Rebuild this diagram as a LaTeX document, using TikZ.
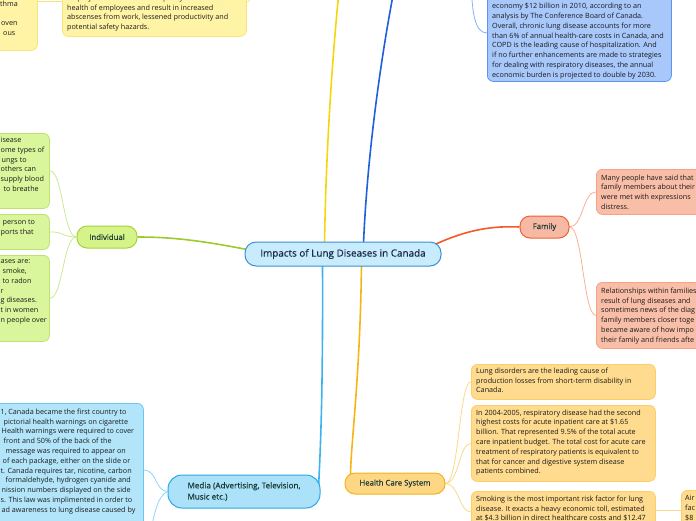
\documentclass[tikz,border=0pt]{standalone}
\usepackage{fontspec}
\setmainfont{Open Sans}
\newfontfamily\labfont{Open Sans}[FakeBold=0.5]
\usetikzlibrary{calc}
\pgfdeclarelayer{background}
\pgfsetlayers{background,main}
\definecolor{ctr}{HTML}{C8ECFB}
\definecolor{ctrd}{HTML}{3A8FD5}
\definecolor{ctrt}{HTML}{1B2B4B}
\definecolor{labt}{HTML}{1C3B36}
\definecolor{bodyt}{HTML}{1A1A1A}
\definecolor{famf}{HTML}{F7B9A3}
\definecolor{famd}{HTML}{EE5F35}
\definecolor{faml}{HTML}{F35A27}
\definecolor{famcf}{HTML}{F9BEA8}
\definecolor{famcd}{HTML}{F6A283}
\definecolor{famcl}{HTML}{F8B096}
\definecolor{indf}{HTML}{D6F38A}
\definecolor{indd}{HTML}{A5D33A}
\definecolor{indl}{HTML}{9BCB2C}
\definecolor{indcf}{HTML}{DAF69C}
\definecolor{indcd}{HTML}{BEE26E}
\definecolor{indcl}{HTML}{CBE894}
\definecolor{medf}{HTML}{ACE2F9}
\definecolor{medd}{HTML}{2AA7E5}
\definecolor{medl}{HTML}{3DB2EE}
\definecolor{medcf}{HTML}{B3E5FA}
\definecolor{medcd}{HTML}{6BC6F0}
\definecolor{medcl}{HTML}{8ED5F6}
\definecolor{hcsf}{HTML}{FDD783}
\definecolor{hcsd}{HTML}{F4B21B}
\definecolor{hcsl}{HTML}{F7B417}
\definecolor{hcscf}{HTML}{FEDB8E}
\definecolor{hcscd}{HTML}{FBCE66}
\definecolor{hcscl}{HTML}{FCD98C}
\definecolor{yell}{HTML}{F2D70F}
\definecolor{yelcf}{HTML}{FFF4A6}
\definecolor{yelcd}{HTML}{F7E47A}
\definecolor{yelcl}{HTML}{F6E27A}
\definecolor{blul}{HTML}{1E5FDF}
\definecolor{blucf}{HTML}{A8C8FB}
\definecolor{blucd}{HTML}{5C93EF}
\definecolor{blucl}{HTML}{85B0F5}
\begin{document}
\begin{tikzpicture}[x=1pt,y=-1pt,
  bx/.style={draw, rounded corners=6pt, line width=0.8pt, inner sep=0pt, anchor=north west},
  txt/.style={anchor=north west, inner sep=0pt, align=left, text=bodyt, font=\fontsize{7.2}{9.8}\selectfont},
  branch/.style={draw, rounded corners=10pt, line width=1pt, inner sep=0pt, text=labt, font=\labfont\fontsize{7.8}{11}\selectfont},
  mainln/.style={line width=1.6pt},
  subln/.style={line width=0.8pt}]
\useasboundingbox (0,0) rectangle (696,520);
\clip (0,0) rectangle (696,520);

% central and branch nodes
\node[branch, fill=ctr, draw=ctrd, text=ctrt, minimum width=196pt, minimum height=24pt, rounded corners=11pt, font=\labfont\fontsize{9.9}{11}\selectfont] (c) at (343,254) {Impacts of Lung Diseases in Canada};
\node[branch, fill=famf, draw=famd, minimum width=49pt, minimum height=22pt] (fam) at (544.5,227) {Family};
\node[branch, fill=indf, draw=indd, minimum width=60pt, minimum height=22pt] (ind) at (107,237) {Individual};
\node[branch, fill=medf, draw=medd, minimum width=152pt, minimum height=33pt, rounded corners=14pt, align=left, font=\labfont\fontsize{8.1}{11.2}\selectfont] (med) at (244,491.5) {Media (Advertising, Television,\\Music etc.)};
\node[branch, fill=hcsf, draw=hcsd, minimum width=100pt, minimum height=21pt] (hcs) at (395,483.5) {Health Care System};

% top-left yellow box
\node[bx, fill=yelcf, draw=yelcd, minimum width=137pt, minimum height=63pt] (TL) at (-100,-13) {};
\node[txt] (TLt) at (0,0.5) {thma\\\mbox{}\\\hspace{1pt}oven\\\hspace{3pt}ous\\\mbox{}};
% top yellow box
\node[bx, fill=yelcf, draw=yelcd, minimum width=184pt, minimum height=50pt] (TY) at (62,-14) {};
\node[txt] (TYt) at (67,-5.5) {Employees. Poor indoor air quality can affect the\\health of employees and result in increased\\abscenses from work, lessened productivity and\\potential safety hazards.};
% top right blue box
\node[bx, fill=blucf, draw=blucd, minimum width=184pt, minimum height=101pt] (TR) at (487,-20) {};
\node[txt] (TRt) at (492,3) {economy \$12 billion in 2010, according to an\\analysis by The Conference Board of Canada.\\Overall, chronic lung disease accounts for more\\than 6\% of annual health-care costs in Canada, and\\COPD is the leading cause of hospitalization. And\\if no further enhancements are made to strategies\\for dealing with respiratory diseases, the annual\\economic burden is projected to double by 2030.};

% individual children
\node[bx, fill=indcf, draw=indcd, minimum width=149pt, minimum height=75pt] (A) at (-100,133) {};
\node[txt] (At) at (0.5,137) {isease\\ome types of\\\hspace{1pt}ungs to\\others can\\supply blood\\\hspace{3pt}to breathe\\\mbox{}};
\node[bx, fill=indcf, draw=indcd, minimum width=149pt, minimum height=35pt] (B) at (-100,214) {};
\node[txt] (Bt) at (0.5,219.5) {\hspace{2pt}person to\\ports that\\\mbox{}};
\node[bx, fill=indcf, draw=indcd, minimum width=149pt, minimum height=86pt] (C) at (-100,255) {};
\node[txt] (Ct) at (0.5,259.5) {ases are:\\\hspace{2pt}smoke,\\\hspace{2pt}to radon\\r\\g diseases.\\t in women\\n people over\\\mbox{}};

% family children
\node[bx, fill=famcf, draw=famcd, minimum width=164pt, minimum height=45pt] (F1) at (596,169) {};
\node[txt] (F1t) at (601,174.5) {Many people have said that\\family members about their\\were met with expressions\\distress.};
\node[bx, fill=famcf, draw=famcd, minimum width=164pt, minimum height=66pt] (F2) at (596,282) {};
\node[txt] (F2t) at (601,287.5) {Relationships within families\\result of lung diseases and\\sometimes news of the diag\\family members closer toge\\became aware of how impo\\their family and friends afte};

% media child
\node[bx, fill=medcf, draw=medcd, minimum width=243pt, minimum height=160pt] (M1) at (-100,403) {};
\node[txt] (M1t) at (0.5,408.5) {1, Canada became the first country to\\\hspace{3pt}pictorial health warnings on cigarette\\\hspace{1pt}Health warnings were required to cover\\\hspace{3pt}front and 50\% of the back of the\\\hspace{5pt}message was required to appear on\\\hspace{2pt}of each package, either on the slide or\\t. Canada requires tar, nicotine, carbon\\\hspace{5pt}formaldehyde, hydrogen cyanide and\\\hspace{1pt}nission numbers displayed on the side\\s. This law was implimented in order to\\\hspace{1pt}ad awareness to lung disease caused by};

% health care children
\node[bx, fill=hcscf, draw=hcscd, minimum width=184pt, minimum height=35pt] (H1) at (471,364) {};
\node[txt] (H1t) at (476,367.5) {Lung disorders are the leading cause of\\production losses from short-term disability in\\Canada.};
\node[bx, fill=hcscf, draw=hcscd, minimum width=184pt, minimum height=76pt] (H2) at (471,405) {};
\node[txt] (H2t) at (476,409.5) {In 2004-2005, respiratory disease had the second\\highest costs for acute inpatient care at \$1.65\\billion. That represented 9.5\% of the total acute\\care inpatient budget. The total cost for acute care\\treatment of respiratory patients is equivalent to\\that for cancer and digestive system disease\\patients combined.};
\node[bx, fill=hcscf, draw=hcscd, minimum width=184pt, minimum height=90pt] (H3) at (471,491) {};
\node[txt] (H3t) at (476,495.5) {Smoking is the most important risk factor for lung\\disease. It exacts a heavy economic toll, estimated\\at \$4.3 billion in direct healthcare costs and \$12.47};
\node[bx, fill=hcscf, draw=hcscd, minimum width=90pt, minimum height=90pt] (Air) at (681,490) {};
\node[txt] (Airt) at (685,495.5) {Air\\fac\\\$8};

% free ends off the picture
\coordinate (yTop) at (340,-20);
\coordinate (bTop) at (396,-20);
\coordinate (bSub) at (471,-20);
\coordinate (yPar) at (255,-20);
\coordinate (mDown) at (150,535);

\begin{pgfonlayer}{background}
\draw[mainln, yell] ($(c.north west)+(80,2)$) .. controls (326,150) and (332,60) .. (yTop);
\draw[mainln, blul] ($(c.north west)+(119,2)$) .. controls (367,160) and (380,60) .. (bTop);
\draw[mainln, indl] ($(c.west)+(10,-3)$) .. controls (200,240) and (170,237) .. (ind.east);
\draw[mainln, faml] ($(c.east)+(-10,-8)$) .. controls (470,228) and (495,226) .. (fam.west);
\draw[mainln, medl] ($(c.south west)+(78,-2)$) .. controls (323,380) and (321,440) .. ($(med.east)+(-2,-4)$);
\draw[mainln, hcsl] ($(c.south west)+(117,-2)$) .. controls (360,380) and (351,440) .. ($(hcs.north west)+(6,3)$);

\draw[subln, indcl] (ind.west) .. controls (63,237) and (63,170.5) .. (A.east);
\draw[subln, indcl] (ind.west) .. controls (63,237) and (63,231.5) .. (B.east);
\draw[subln, indcl] (ind.west) .. controls (63,237) and (63,298) .. (C.east);

\draw[subln, famcl] (fam.east) .. controls (583,227) and (583,191.5) .. (F1.west);
\draw[subln, famcl] (fam.east) .. controls (583,227) and (583,315) .. (F2.west);

\draw[subln, medcl] (med.west) .. controls (155,491) and (157,470) .. ($(M1.north east)+(0,67)$);
\draw[subln, medcl] (med.west) .. controls (158,496) and (155,510) .. (mDown);

\draw[subln, hcscl] (hcs.east) .. controls (459,483.5) and (459,381.5) .. (H1.west);
\draw[subln, hcscl] (hcs.east) .. controls (459,483.5) and (459,443) .. (H2.west);
\draw[subln, hcscl] (hcs.east) .. controls (459,483.5) and (459,512) .. ($(H3.north west)+(0,21)$);
\draw[subln, hcscl] ($(H3.north east)+(0,19)$) -- ($(Air.north west)+(0,20)$);

\draw[subln, blucl] (bSub) .. controls (472,10) and (474,33) .. ($(TR.north west)+(0,53)$);
\draw[subln, yelcl] ($(TL.north east)+(0,14)$) -- ($(TY.north west)+(0,15)$);
\draw[subln, yelcl] ($(TY.north east)+(0,16)$) .. controls (250,2) and (252,-5) .. (yPar);
\end{pgfonlayer}
\end{tikzpicture}
\end{document}
